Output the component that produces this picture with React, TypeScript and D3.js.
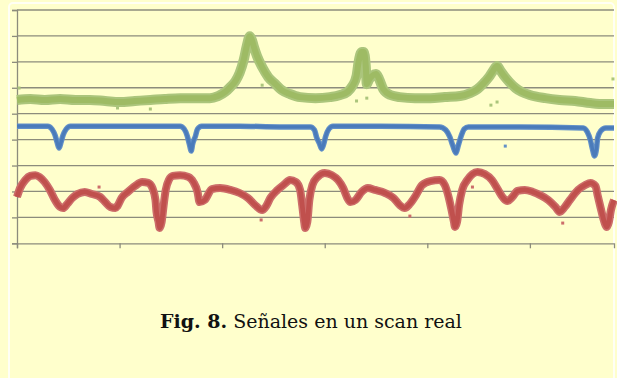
import React, { useEffect, useRef } from 'react';
import * as d3 from 'd3';

// scan position (samples) and signal level (a.u.)
const greenX = [0, 13, 27, 42, 57, 71, 86, 100, 115, 130, 144, 159, 174, 188, 196, 203, 208, 213, 217, 221, 224, 227, 229, 231, 234, 239, 245, 252, 258, 266, 276, 291, 305, 315, 322, 327, 331, 333, 336, 338, 340, 341, 343, 346, 350, 353, 357, 364, 373, 388, 403, 417, 432, 442, 449, 455, 460, 464, 468, 471, 475, 480, 486, 492, 500, 515, 529, 544, 559, 573, 582];
const greenY = [5.53, 5.57, 5.53, 5.57, 5.53, 5.53, 5.49, 5.45, 5.49, 5.53, 5.57, 5.60, 5.60, 5.60, 5.68, 5.84, 6.03, 6.26, 6.57, 7.07, 7.61, 7.99, 7.84, 7.57, 7.22, 6.80, 6.41, 6.14, 5.91, 5.76, 5.64, 5.60, 5.64, 5.72, 5.84, 6.07, 6.45, 6.99, 7.38, 7.38, 6.84, 6.14, 6.30, 6.45, 6.53, 6.34, 5.95, 5.72, 5.64, 5.60, 5.60, 5.64, 5.68, 5.80, 5.95, 6.18, 6.41, 6.65, 6.84, 6.68, 6.45, 6.22, 5.99, 5.84, 5.72, 5.60, 5.53, 5.49, 5.41, 5.37, 5.37];
const greenOutX = [2, 98, 130, 141, 239, 331, 341, 462, 468, 581];
const greenOutY = [5.99, 5.22, 5.18, 4.49, 6.10, 5.49, 5.60, 5.33, 5.45, 6.34];

const blueX = [0, 18, 30, 34, 37, 39, 41, 43, 45, 48, 52, 81, 120, 159, 163, 166, 168, 170, 171, 174, 176, 180, 217, 256, 286, 290, 292, 295, 297, 299, 301, 304, 308, 354, 412, 418, 422, 425, 428, 430, 433, 436, 440, 490, 552, 556, 559, 561, 563, 565, 566, 569, 574, 582];
const blueY = [4.52, 4.52, 4.52, 4.41, 4.18, 3.91, 3.68, 3.91, 4.18, 4.41, 4.52, 4.52, 4.52, 4.52, 4.41, 4.14, 3.83, 3.56, 3.79, 4.14, 4.41, 4.52, 4.52, 4.49, 4.49, 4.37, 4.10, 3.83, 3.64, 3.83, 4.14, 4.41, 4.52, 4.52, 4.49, 4.37, 4.10, 3.75, 3.48, 3.75, 4.14, 4.41, 4.49, 4.49, 4.45, 4.29, 3.98, 3.64, 3.37, 3.68, 4.06, 4.33, 4.45, 4.45];
const blueOutX = [476];
const blueOutY = [3.75];

const redX = [0, 3, 8, 13, 18, 22, 27, 32, 37, 42, 45, 49, 54, 59, 66, 73, 81, 86, 91, 96, 98, 102, 108, 115, 122, 128, 132, 135, 136, 138, 139, 141, 143, 145, 148, 152, 159, 167, 172, 176, 178, 183, 190, 198, 208, 217, 225, 232, 239, 243, 247, 254, 261, 266, 272, 276, 278, 280, 281, 283, 285, 288, 293, 300, 307, 313, 318, 322, 325, 330, 336, 342, 349, 359, 367, 373, 378, 383, 389, 395, 403, 412, 417, 421, 424, 426, 427, 429, 431, 434, 439, 444, 449, 456, 463, 469, 474, 478, 483, 488, 495, 503, 510, 518, 525, 529, 534, 539, 547, 554, 559, 564, 566, 569, 572, 575, 577, 579, 582];
const redY = [1.79, 2.13, 2.44, 2.60, 2.63, 2.56, 2.36, 2.06, 1.67, 1.40, 1.36, 1.52, 1.75, 1.90, 1.98, 1.90, 1.79, 1.59, 1.40, 1.36, 1.44, 1.75, 1.98, 2.21, 2.36, 2.33, 2.13, 1.67, 1.21, 0.82, 0.59, 0.82, 1.48, 2.06, 2.44, 2.60, 2.63, 2.56, 2.36, 1.98, 1.59, 1.67, 2.09, 2.13, 2.06, 1.94, 1.75, 1.48, 1.28, 1.44, 1.75, 2.06, 2.29, 2.44, 2.36, 2.06, 1.48, 0.82, 0.59, 0.82, 1.67, 2.25, 2.56, 2.71, 2.63, 2.44, 2.13, 1.75, 1.59, 1.67, 1.98, 2.13, 2.06, 1.94, 1.75, 1.48, 1.36, 1.52, 1.86, 2.25, 2.40, 2.44, 2.25, 1.75, 1.21, 0.82, 0.63, 0.82, 1.48, 2.06, 2.44, 2.67, 2.75, 2.67, 2.44, 2.06, 1.75, 1.63, 1.79, 2.02, 2.06, 1.98, 1.86, 1.67, 1.40, 1.21, 1.40, 1.67, 2.06, 2.25, 2.33, 2.21, 1.86, 1.36, 0.90, 0.63, 0.82, 1.28, 1.67];
const redOutX = [80, 238, 383, 444, 532];
const redOutY = [2.17, 0.90, 1.05, 2.17, 0.78];

const xTicks = [0, 100, 200, 300, 400, 500];
const yTicks = [0, 1, 2, 3, 4, 5, 6, 7, 8, 9];

export default function App() {
  const ref = useRef(null);

  useEffect(() => {
    const width = 617, height = 378;
    const left = 17, right = 614, top = 10, bottom = 243.3;
    const svg = d3.select(ref.current);
    svg.selectAll('*').remove();
    svg.attr('width', width).attr('height', height);

    svg.append('rect').attr('width', width).attr('height', height).attr('fill', '#ffffcc');
    svg.append('rect')
      .attr('x', 9).attr('y', 3).attr('width', 605).attr('height', 420).attr('rx', 4)
      .attr('fill', 'none').attr('stroke', '#fffff4').attr('stroke-width', 2);

    let x = d3.scaleLinear().domain([0, 582]).range([left, right]);
    let y = d3.scaleLinear().domain([0, 9]).range([bottom, top]);
    const gridColor = '#8c8c7c';

    svg.append('g').selectAll('line').data(yTicks.slice(1)).enter().append('line')
      .attr('x1', left).attr('x2', right)
      .attr('y1', d => y(d)).attr('y2', d => y(d))
      .attr('stroke', gridColor).attr('stroke-width', 1.3);

    let yAxis = svg.append('g').attr('transform', 'translate(' + left + ',0)')
      .call(d3.axisLeft(y).tickValues(yTicks).tickSize(5).tickFormat(() => ''));
    let xAxis = svg.append('g').attr('transform', 'translate(0,' + bottom + ')')
      .call(d3.axisBottom(x).tickValues(xTicks).tickSize(5).tickFormat(() => ''));
    [yAxis, xAxis].forEach(a => {
      a.select('.domain').attr('stroke', gridColor).attr('stroke-width', 1.3);
      a.selectAll('.tick line').attr('stroke', gridColor).attr('stroke-width', 1.3);
    });

    const series = [
      { xs: greenX, ys: greenY, ox: greenOutX, oy: greenOutY, wide: '#abc57c', core: '#9ebb64', w: 10 },
      { xs: blueX, ys: blueY, ox: blueOutX, oy: blueOutY, wide: '#6290c8', core: '#4a7bba', w: 5.5 },
      { xs: redX, ys: redY, ox: redOutX, oy: redOutY, wide: '#cc6d6a', core: '#c0504d', w: 8 },
    ];

    let line = d3.line()
      .x(d => x(d[0]))
      .y(d => y(d[1]))
      .curve(d3.curveMonotoneX);

    series.forEach(s => {
      const pts = s.xs.map((v, i) => [v, s.ys[i]]);
      const g = svg.append('g');
      g.append('path').attr('d', line(pts)).attr('fill', 'none')
        .attr('stroke', s.wide).attr('stroke-width', s.w).attr('stroke-linejoin', 'round');
      g.append('path').attr('d', line(pts)).attr('fill', 'none')
        .attr('stroke', s.core).attr('stroke-width', s.w * 0.6).attr('stroke-linejoin', 'round');
      g.selectAll('rect').data(s.ox.map((v, i) => [v, s.oy[i]])).enter().append('rect')
        .attr('x', d => x(d[0]) - 1.5).attr('y', d => y(d[1]) - 1.5)
        .attr('width', 3).attr('height', 3).attr('fill', s.wide);
    });

    const cap = svg.append('text')
      .attr('x', 311).attr('y', 328)
      .attr('text-anchor', 'middle')
      .attr('font-family', '"DejaVu Serif", serif')
      .attr('font-size', 19)
      .attr('fill', '#111');
    cap.append('tspan').attr('font-weight', 'bold').text('Fig. 8.');
    cap.append('tspan').text(' Señales en un scan real');
  }, []);

  return (
    <div style={{ position: 'fixed', left: 0, top: 0, width: 617, height: 378 }}>
      <svg ref={ref} style={{ display: 'block' }}></svg>
    </div>
  );
}
